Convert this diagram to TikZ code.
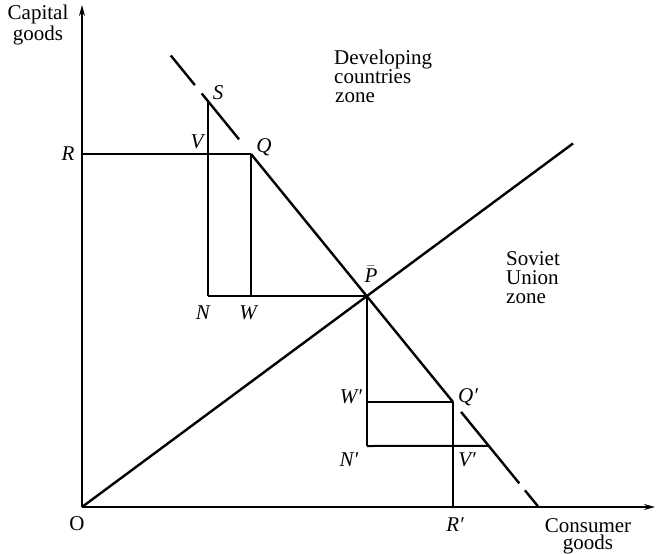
\documentclass[tikz,border=0pt]{standalone}
\usepackage{fontspec}
\setmainfont{Liberation Serif}
\usetikzlibrary{arrows.meta,calc}
\begin{document}
\begin{tikzpicture}[x=1pt,y=-1pt,
  axis/.style={line width=1.5pt,-{Stealth[length=11pt,width=6pt]}},
  heavy/.style={line width=2.4pt},
  mid/.style={line width=2pt},
  lbl/.style={inner sep=0pt,font=\fontsize{21}{19}\selectfont\itshape},
  txt/.style={inner sep=0pt,font=\fontsize{21}{19}\selectfont,align=left},
  axtxt/.style={inner sep=0pt,font=\fontsize{21}{17}\selectfont,align=center}]
\useasboundingbox (0,0) rectangle (656,554);
% points
\coordinate (O) at (82,507);
\coordinate (Ytop) at (82,5);
\coordinate (Xend) at (655,507);
\coordinate (R) at (82,154);
\coordinate (Q) at (251,154);
\coordinate (V) at (208,154);
\coordinate (S) at (208,101);
\coordinate (N) at (208,296);
\coordinate (W) at (251,296);
\coordinate (P) at (367,296);
\coordinate (Qp) at (453,402);
\coordinate (Wp) at (367,402);
\coordinate (Np) at (367,446);
\coordinate (Vend) at ($(Q)!1.177!(Qp)$);
\coordinate (Vp) at (453,446);
\coordinate (Rp) at (453,507);
\coordinate (Dend) at ($(O)!1.723!(P)$);
% axes
\draw[axis] (O) -- (Ytop);
\draw[axis] (O) -- (Xend);
% diagonal
\draw[heavy] (O) -- (Dend);
% main line
\draw[heavy] (Q) -- (Qp);
\draw[heavy] ($(Q)!-0.059!(Qp)$) -- ($(Q)!-0.244!(Qp)$);
\draw[heavy] ($(Q)!-0.278!(Qp)$) -- ($(Q)!-0.397!(Qp)$);
\draw[heavy] ($(Q)!1.040!(Qp)$) -- ($(Q)!1.328!(Qp)$);
\draw[heavy] ($(Q)!1.356!(Qp)$) -- ($(Q)!1.420!(Qp)$);
% upper box
\draw[heavy] (R) -- (Q);
\draw[mid] (S) -- (N);
\draw[heavy] (N) -- (P);
\draw[heavy] (Q) -- (W);
% lower box
\draw[mid] (P) -- (Np);
\draw[mid] (Wp) -- (Qp);
\draw[mid] (Np) -- (Vend);
\draw[mid] (Qp) -- (Rp);
% labels
\node[axtxt] (capl) at (38,25) {Capital\\goods};
\node[axtxt] (conl) at (588,536) {Consumer\\goods};
\node[inner sep=0pt,font=\fontsize{21}{19}\selectfont] (Ol) at (77,524) {O};
\node[lbl] (Rl) at (68,154) {R};
\node[lbl] (Sl) at (218,93) {S};
\node[lbl] (Vl) at (197,142) {V};
\node[lbl] (Ql) at (264,147) {Q};
\node[lbl] (Nl) at (203,313) {N};
\node[lbl] (Wl) at (248,313) {W};
\node[inner sep=0pt,font=\fontsize{21}{19}\selectfont] (Pl) at (371,274) {$\bar{\mbox{\itshape P}}$};
\node[lbl] (Wpl) at (351,397) {W′};
\node[lbl] (Qpl) at (468,397) {Q′};
\node[lbl] (Npl) at (349,460) {N′};
\node[lbl] (Vpl) at (467,460) {V′};
\node[lbl] (Rpl) at (455,525) {R′};
\node[txt,anchor=west] (dev) at (334,76) {Developing\\countries\\\hspace*{1pt}zone};
\node[txt,anchor=west] (sov) at (506,278) {Soviet\\Union\\zone};
\end{tikzpicture}
\end{document}
